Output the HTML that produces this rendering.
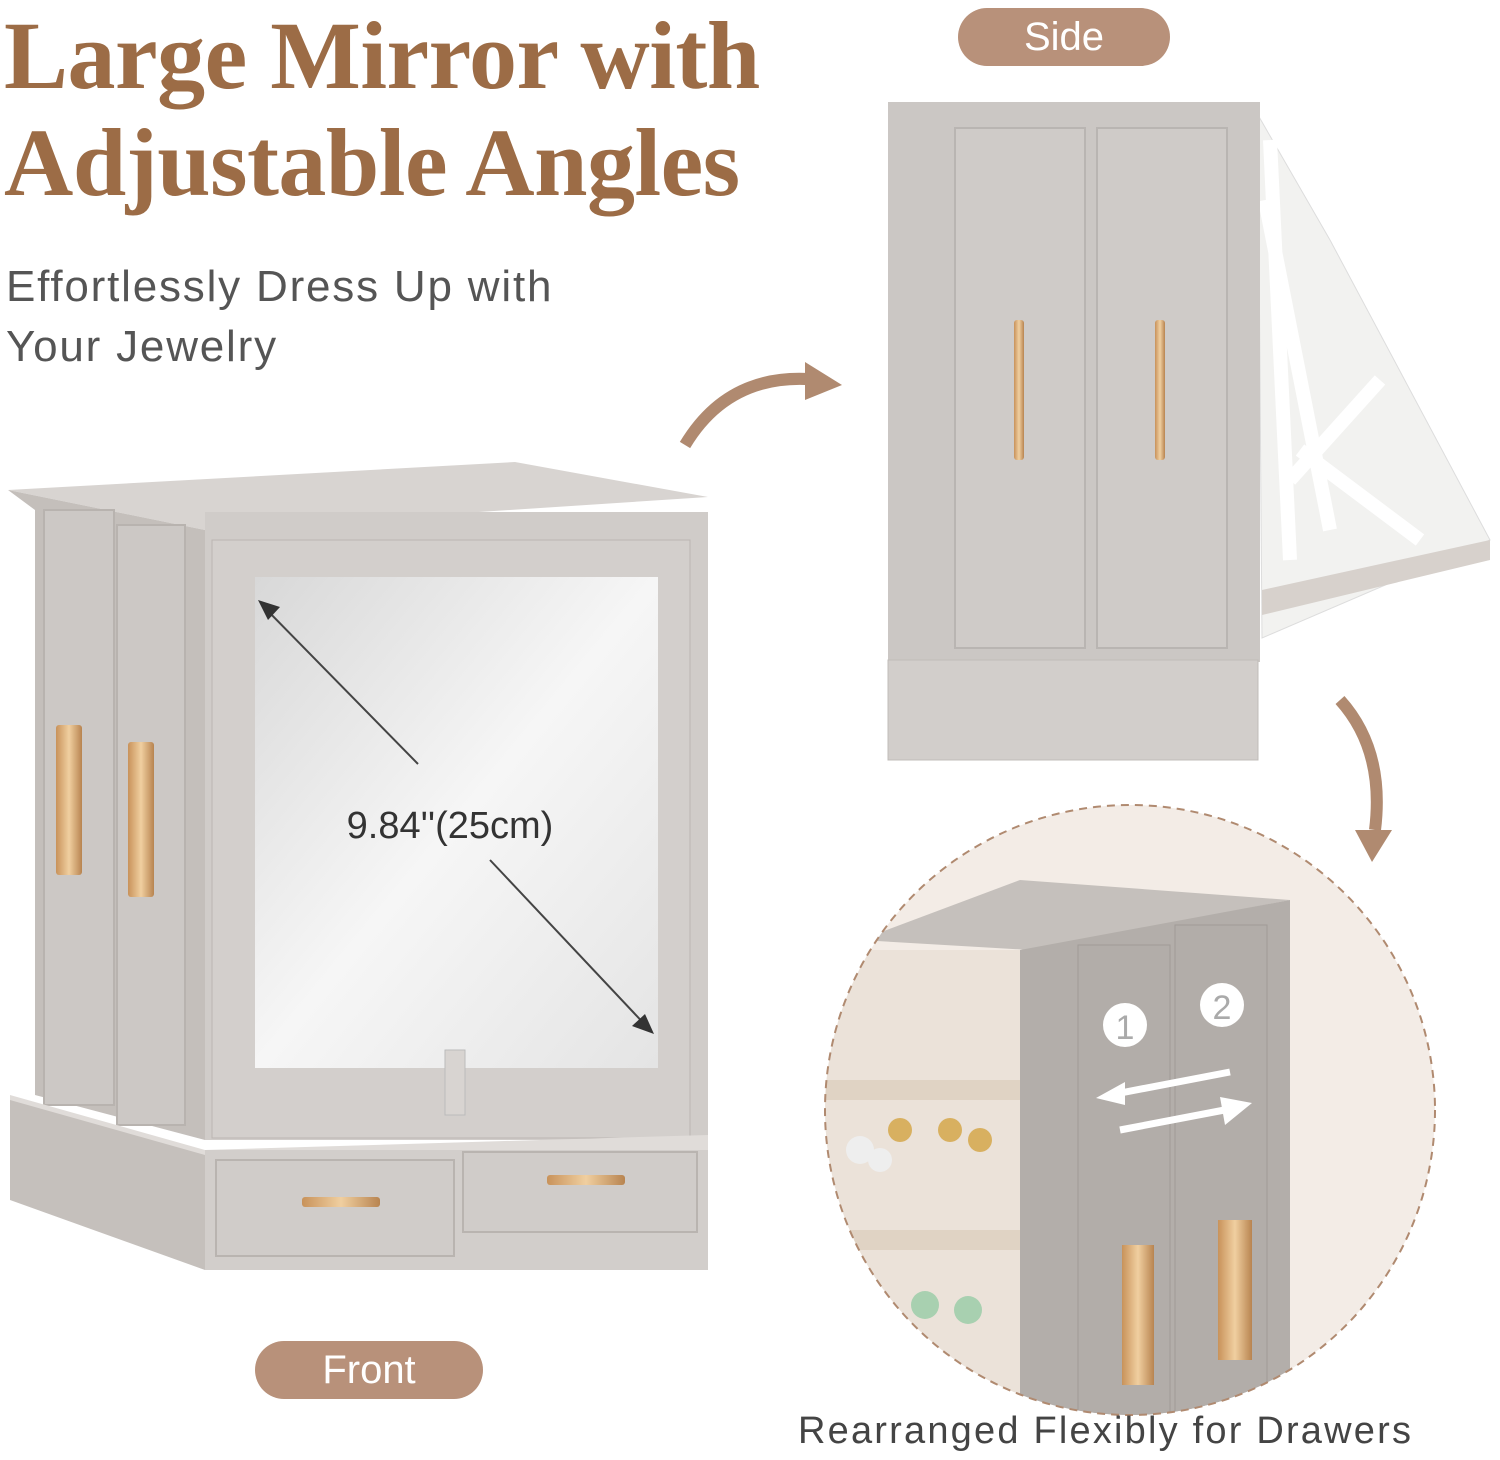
<!DOCTYPE html>
<html><head><meta charset="utf-8"><style>
body{margin:0;background:#fff;width:1500px;height:1460px;overflow:hidden;position:relative;font-family:"Liberation Sans",sans-serif}
.t{position:absolute;left:4px;font-family:"Liberation Serif",serif;font-weight:bold;color:#9c6c46;font-size:96px;letter-spacing:-0.5px;line-height:1;white-space:nowrap}
.s{position:absolute;left:6px;color:#555;font-size:44px;letter-spacing:1.8px;line-height:1;white-space:nowrap}
.pill{position:absolute;background:#b8917a;color:#fff;border-radius:30px;text-align:center;font-size:40px;line-height:58px}
</style></head><body>
<svg width="1500" height="1460" style="position:absolute;left:0;top:0">
<defs>
<linearGradient id="m" x1="0" y1="0" x2="1" y2="1"><stop offset="0" stop-color="#d8d8d8"/><stop offset=".5" stop-color="#f6f6f6"/><stop offset="1" stop-color="#e4e4e4"/></linearGradient>
<linearGradient id="g" x1="0" x2="1"><stop offset="0" stop-color="#c8925a"/><stop offset=".5" stop-color="#f0cfa0"/><stop offset="1" stop-color="#b88450"/></linearGradient>
<clipPath id="c"><circle cx="1130" cy="1110" r="305"/></clipPath>
</defs>
<path d="M685,445 Q730,370 820,380" stroke="#b08a70" stroke-width="12" fill="none"/>
<path d="M805,362 L842,385 L805,400z" fill="#b08a70"/>
<path d="M1340,700 Q1385,750 1375,830" stroke="#b08a70" stroke-width="12" fill="none"/>
<path d="M1355,830 L1372,862 L1392,830z" fill="#b08a70"/>
<path d="M1258,115 L1330,240 L1490,540 L1262,638z" fill="#f2f2f0" stroke="#ddd"/>
<path d="M1262,590 L1490,540 L1490,560 L1262,615z" fill="#d7d1cc"/>
<path d="M1270,140 L1290,560 M1300,450 L1420,540 M1290,480 L1380,380 M1265,200 L1330,530" stroke="#fff" stroke-width="14"/>
<rect x="888" y="102" width="372" height="560" fill="#cbc7c4"/>
<rect x="888" y="660" width="370" height="100" fill="#d2cecb" stroke="#c0bcb8"/>
<rect x="955" y="128" width="130" height="520" fill="#cfcbc8" stroke="#b9b5b2" stroke-width="2"/>
<rect x="1097" y="128" width="130" height="520" fill="#cfcbc8" stroke="#b9b5b2" stroke-width="2"/>
<rect x="1014" y="320" width="10" height="140" rx="3" fill="url(#g)"/>
<rect x="1155" y="320" width="10" height="140" rx="3" fill="url(#g)"/>
<path d="M8,490 L515,462 L708,497 L205,530z" fill="#d8d4d1"/>
<path d="M8,490 L205,530 L205,1140 L35,1095 L35,510z" fill="#c4bfbb"/>
<rect x="44" y="510" width="70" height="595" fill="#ccc8c5" stroke="#b8b3af" stroke-width="2"/>
<rect x="117" y="525" width="68" height="600" fill="#ccc8c5" stroke="#b8b3af" stroke-width="2"/>
<rect x="56" y="725" width="26" height="150" rx="3" fill="url(#g)"/>
<rect x="128" y="742" width="26" height="155" rx="3" fill="url(#g)"/>
<rect x="205" y="512" width="503" height="628" fill="#d0ccc9"/>
<rect x="212" y="540" width="478" height="598" fill="#d3cfcc" stroke="#bbb6b2"/>
<rect x="255" y="577" width="403" height="491" fill="url(#m)"/>
<line x1="262" y1="605" x2="418" y2="764" stroke="#444" stroke-width="2"/><path d="M258,600 L280,607 L268,620z" fill="#333"/>
<line x1="490" y1="860" x2="650" y2="1030" stroke="#444" stroke-width="2"/><path d="M654,1034 L632,1026 L645,1014z" fill="#333"/>
<text x="450" y="838" font-size="38" fill="#333" text-anchor="middle" font-family="Liberation Sans">9.84''(25cm)</text>
<rect x="445" y="1050" width="20" height="65" fill="#d8d4d1" stroke="#bbb"/>
<path d="M10,1095 L205,1150 L708,1135 L708,1150 L205,1160 L10,1105z" fill="#e0dcd9"/>
<path d="M10,1100 L205,1155 L205,1270 L10,1200z" fill="#c5c0bc"/>
<rect x="205" y="1150" width="503" height="120" fill="#d2cecb"/>
<rect x="216" y="1160" width="238" height="96" fill="#d0ccc9" stroke="#b9b4b0" stroke-width="2"/>
<rect x="463" y="1152" width="234" height="80" fill="#d0ccc9" stroke="#b9b4b0" stroke-width="2"/>
<rect x="302" y="1197" width="78" height="10" rx="3" fill="url(#g)"/>
<rect x="547" y="1175" width="78" height="10" rx="3" fill="url(#g)"/>
<g clip-path="url(#c)">
<rect x="820" y="800" width="620" height="620" fill="#f3ece6"/>
<path d="M860,940 L1020,880 L1290,900 L1030,950z" fill="#c5c0bc"/>
<rect x="820" y="950" width="210" height="470" fill="#ebe2d9"/>
<g fill="#e0d3c4"><rect x="820" y="1080" width="210" height="20"/><rect x="820" y="1230" width="210" height="20"/></g>
<g fill="#d8b060"><circle cx="900" cy="1130" r="12"/><circle cx="950" cy="1130" r="12"/><circle cx="980" cy="1140" r="12"/></g>
<g fill="#eee"><circle cx="860" cy="1150" r="14"/><circle cx="880" cy="1160" r="12"/></g>
<g fill="#a8d0b0"><circle cx="925" cy="1305" r="14"/><circle cx="968" cy="1310" r="14"/></g>
<path d="M1020,950 L1290,900 L1290,1420 L1020,1420z" fill="#b3aeaa"/>
<rect x="1078" y="945" width="92" height="475" fill="#b2ada9" stroke="#a09b97"/>
<rect x="1175" y="925" width="92" height="495" fill="#b2ada9" stroke="#a09b97"/>
<circle cx="1125" cy="1025" r="22" fill="#fff"/><text x="1125" y="1039" font-size="34" text-anchor="middle" fill="#aaa">1</text>
<circle cx="1222" cy="1005" r="22" fill="#fff"/><text x="1222" y="1019" font-size="34" text-anchor="middle" fill="#aaa">2</text>
<path d="M1110,1095 L1230,1072" stroke="#fff" stroke-width="7"/><path d="M1096,1098 L1125,1082 L1125,1105z" fill="#fff"/>
<path d="M1120,1130 L1235,1108" stroke="#fff" stroke-width="7"/><path d="M1252,1103 L1220,1097 L1225,1125z" fill="#fff"/>
<rect x="1122" y="1245" width="32" height="140" fill="url(#g)"/>
<rect x="1218" y="1220" width="34" height="140" fill="url(#g)"/>
</g>
<circle cx="1130" cy="1110" r="305" fill="none" stroke="#b08a70" stroke-width="2" stroke-dasharray="8,6"/>
</svg>
<div class="t" style="top:8px">Large Mirror with</div>
<div class="t" style="top:115px">Adjustable Angles</div>
<div class="s" style="top:265px">Effortlessly Dress Up with</div>
<div class="s" style="top:325px">Your Jewelry</div>
<div class="pill" style="left:958px;top:8px;width:212px">Side</div>
<div class="pill" style="left:255px;top:1341px;width:228px">Front</div>
<div style="position:absolute;left:798px;top:1410px;font-size:38px;letter-spacing:2.2px;color:#444;white-space:nowrap">Rearranged Flexibly for Drawers</div>
</body></html>
